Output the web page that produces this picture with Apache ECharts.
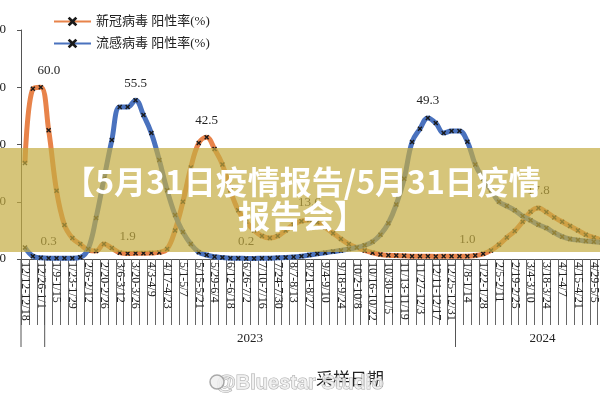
<!DOCTYPE html>
<html><head><meta charset="utf-8">
<script src="https://cdn.jsdelivr.net/npm/echarts@6/dist/echarts.min.js"></script>
<style>html,body{margin:0;padding:0;background:#fff}#c{width:600px;height:400px}</style>
</head><body><div id="c"></div>
<script>
var weeks = ['12/12-12/18','12/19-12/25','12/26-1/1','1/2-1/8','1/9-1/15','1/16-1/22','1/23-1/29','1/30-2/5','2/6-2/12','2/13-2/19',
'2/20-2/26','2/27-3/5','3/6-3/12','3/13-3/19','3/20-3/26','3/27-4/2','4/3-4/9','4/10-4/16','4/17-4/23','4/24-4/30',
'5/1-5/7','5/8-5/14','5/15-5/21','5/22-5/28','5/29-6/4','6/5-6/11','6/12-6/18','6/19-6/25','6/26-7/2','7/3-7/9',
'7/10-7/16','7/17-7/23','7/24-7/30','7/31-8/6','8/7-8/13','8/14-8/20','8/21-8/27','8/28-9/3','9/4-9/10','9/11-9/17',
'9/18-9/24','9/25-10/1','10/2-10/8','10/9-10/15','10/16-10/22','10/23-10/29','10/30-11/5','11/6-11/12','11/13-11/19','11/20-11/26',
'11/27-12/3','12/4-12/10','12/11-12/17','12/18-12/24','12/25-12/31','1/1-1/7','1/8-1/14','1/15-1/21','1/22-1/28','1/29-2/4',
'2/5-2/11','2/12-2/18','2/19-2/25','2/26-3/3','3/4-3/10','3/11-3/17','3/18-3/24','3/25-3/31','4/1-4/7','4/8-4/14',
'4/15-4/21','4/22-4/28','4/29-5/5','5/6-5/12','5/13-5/19','5/20-5/26','5/27-6/2'];
var years = ['2023','2024'];
var yearStartIdx = [3, 55];
var covidName = '新冠病毒 阳性率(%)';
var fluName = '流感病毒 阳性率(%)';
var covid = [33.5,59.5,60.0,45.0,23.8,11.9,7.3,5.2,3.1,2.8,
5.2,3.8,2.2,1.9,2.0,2.0,2.1,2.3,3.5,10,
20,32,40.5,42.5,38.4,33,24,17,13,10,
8,7.3,8,10,12,13.2,13.6,12.8,11,9,
7,5.2,4,3,2.2,1.6,1.3,1.2,1.1,1.0,
1.0,1.0,0.9,1.0,1.0,1.0,1.0,1.2,1.8,3,
5,7.5,9.8,13,16.5,17.8,16.4,14.5,13,11.5,
10,8.5,7.5,6.6,6.0,null,null];
var flu = [4.0,1.0,0.4,0.3,0.3,0.3,0.3,0.6,3.5,14.3,
28,41.6,53.1,53.1,55.5,50.3,44,34.6,24,15.4,
9.4,5.2,2.4,1.4,0.8,0.5,0.3,0.3,0.2,0.2,
0.3,0.3,0.4,0.5,0.7,1.0,1.4,1.8,2.2,2.6,
3.0,3.5,4.0,4.8,6.0,8.5,12.5,19,28,40.9,
45.5,49.3,47.5,44.0,44.7,44.7,41,33,28,24,
20,18.5,17,15,13.5,12,10.8,9.2,7.8,7,
6.6,6.3,6.0,5.8,null,null,null];
var covidLabelIdx = [2, 13, 23, 36, 56, 65];
var fluLabelIdx = [3, 14, 28, 51];
var yTicks = [0, 20, 40, 60, 80];

var serif = '"Liberation Serif","Noto Sans CJK SC",serif';
var cross = 'path://M2,0L5,3L8,0L10,2L7,5L10,8L8,10L5,7L2,10L0,8L3,5L0,2Z';
function build(arr, idx, offs) {
  return arr.map(function (v, i) {
    if (idx.indexOf(i) >= 0) {
      return {value: v, label: {show: true, position: 'top', distance: 8, offset: offs[i] || [0,0],
        formatter: function (p) { return p.value.toFixed(1); },
        fontFamily: serif, fontSize: 13, color: '#222'}};
    }
    return v;
  });
}
var chart = echarts.init(document.getElementById('c'));
chart.setOption({
  animation: false,
  grid: {left: 21, top: 30, right: -29.3, bottom: 141, containLabel: false, outerBoundsMode: 'none'},
  legend: {left: 48, top: 10, orient: 'vertical', itemGap: 9, itemWidth: 37, itemHeight: 12,
    textStyle: {fontFamily: serif, fontSize: 13, color: '#222'}, data: [covidName, fluName]},
  xAxis: {type: 'category', data: weeks, boundaryGap: true,
    axisLine: {lineStyle: {color: '#555', width: 1}},
    axisTick: {show: true, interval: 0, length: 66, lineStyle: {color: '#666'}},
    axisLabel: {interval: 1, rotate: -90, margin: 3, fontFamily: serif, fontSize: 12, color: '#222'}},
  yAxis: {type: 'value', min: yTicks[0], max: yTicks[yTicks.length-1], interval: 20,
    axisLine: {show: true, lineStyle: {color: '#555'}},
    axisTick: {show: true, length: 4, lineStyle: {color: '#555'}},
    splitLine: {show: false},
    axisLabel: {margin: 15, fontFamily: serif, fontSize: 13, color: '#222'}},
  series: [
    {name: covidName, type: 'line', smooth: 0.4, data: build(covid, covidLabelIdx, {2: [8, 0]}),
     lineStyle: {color: '#E8834A', width: 5}, itemStyle: {color: '#1a1a1a'},
     symbol: cross, symbolSize: 5, showAllSymbol: true, z: 2},
    {name: fluName, type: 'line', smooth: 0.4, data: build(flu, fluLabelIdx, {}),
     lineStyle: {color: '#4A72BE', width: 5}, itemStyle: {color: '#1a1a1a'},
     symbol: cross, symbolSize: 5, showAllSymbol: true, z: 3}
  ]
});
function cx(i) { return chart.convertToPixel({xAxisIndex: 0}, weeks[i]); }
var half = (cx(1) - cx(0)) / 2;
var g = [];
var y0 = chart.convertToPixel({yAxisIndex: 0}, 0);
g.push({type: 'line', shape: {x1: cx(0) - half, y1: y0, x2: cx(0) - half, y2: y0 + 88}, style: {stroke: '#555', lineWidth: 1}, z: 5});
yearStartIdx.forEach(function (s) {
  var x = cx(s) - half;
  g.push({type: 'line', shape: {x1: x, y1: y0, x2: x, y2: y0 + 88}, style: {stroke: '#555', lineWidth: 1}, z: 5});
});
var ends = [yearStartIdx[1], weeks.length];
years.forEach(function (y, k) {
  var a = cx(yearStartIdx[k]) - half, b = cx(ends[k] - 1) + half;
  g.push({type: 'text', x: (a + b) / 2, y: y0 + 80, style: {text: y, font: '13px ' + serif, fill: '#222', textAlign: 'center', textVerticalAlign: 'middle'}, z: 5});
});
g.push({type: 'text', x: 350, y: 379, style: {text: '采样日期', font: '17px "Noto Sans CJK SC"', fill: '#222', textAlign: 'center', textVerticalAlign: 'middle'}, z: 5});
g.push({type: 'text', x: 300, y: 383, style: {text: '@Bluestar Studio', font: 'bold 20px "Liberation Sans"', fill: 'rgba(240,240,240,0.85)', stroke: 'rgba(150,150,150,0.8)', lineWidth: 1, textAlign: 'center', textVerticalAlign: 'middle'}, z: 6});
g.push({type: 'circle', shape: {cx: 217, cy: 382, r: 7}, style: {fill: 'rgba(240,240,240,0.85)', stroke: 'rgba(150,150,150,0.8)', lineWidth: 1.5}, z: 6});
g.push({type: 'rect', shape: {x: 0, y: 148, width: 600, height: 104}, style: {fill: 'rgba(196,172,65,0.7)'}, z: 50});
g.push({type: 'text', x: 302, y: 199, style: {text: '【5月31日疫情报告/5月31日疫情\n报告会】', font: 'bold 32px "Noto Sans CJK SC"', lineHeight: 34, fill: '#fff', textAlign: 'center', textVerticalAlign: 'middle'}, z: 51});
chart.setOption({graphic: {elements: g}});
</script></body></html>
